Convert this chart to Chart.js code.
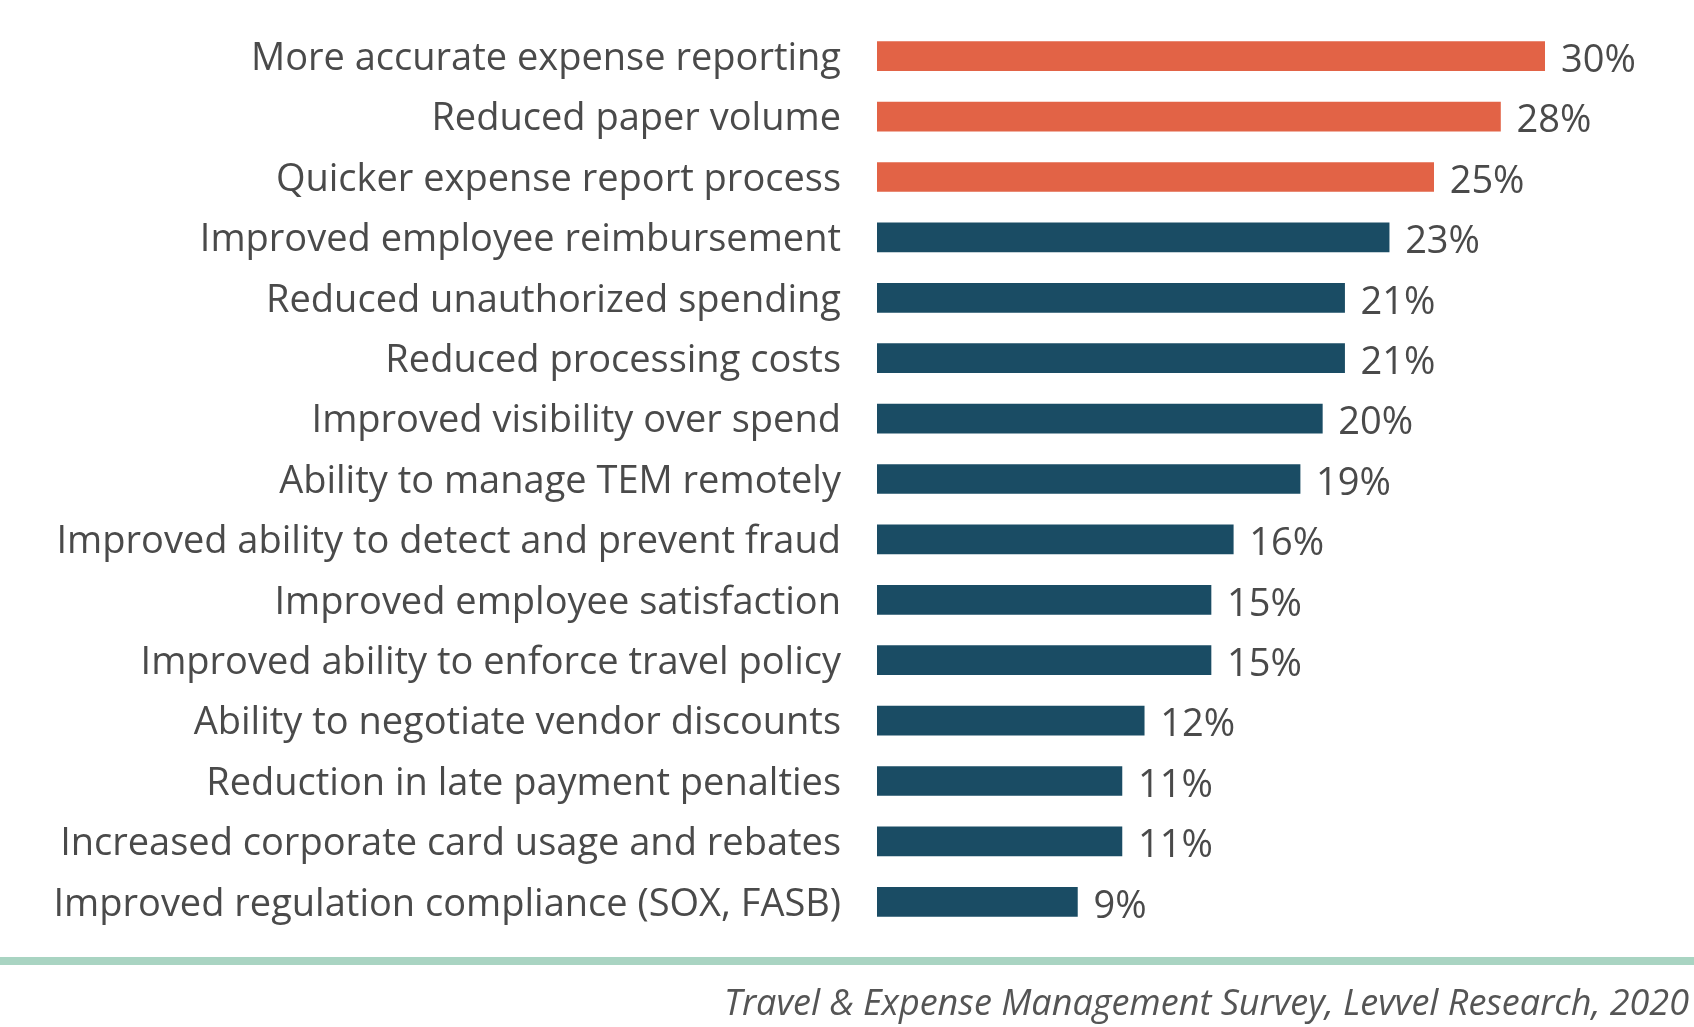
<!DOCTYPE html>
<html>
<head>
<meta charset="utf-8">
<script src="https://cdn.jsdelivr.net/npm/chart.js@4.4.0/dist/chart.umd.min.js"></script>
<style>
html,body{margin:0;padding:0;background:#fff;}
#wrap{position:relative;width:1694px;height:1027px;}
</style>
</head>
<body>
<div id="wrap"><canvas id="c" width="1694" height="1027"></canvas></div>
<script>
const categories = [
  "More accurate expense reporting",
  "Reduced paper volume",
  "Quicker expense report process",
  "Improved employee reimbursement",
  "Reduced unauthorized spending",
  "Reduced processing costs",
  "Improved visibility over spend",
  "Ability to manage TEM remotely",
  "Improved ability to detect and prevent fraud",
  "Improved employee satisfaction",
  "Improved ability to enforce travel policy",
  "Ability to negotiate vendor discounts",
  "Reduction in late payment penalties",
  "Increased corporate card usage and rebates",
  "Improved regulation compliance (SOX, FASB)"
];
const values = [30, 28, 25, 23, 21, 21, 20, 19, 16, 15, 15, 12, 11, 11, 9];
const highlighted = [true, true, true, false, false, false, false, false, false, false, false, false, false, false, false];
const sourceText = "Travel & Expense Management Survey, Levvel Research, 2020";

const ORANGE = "#E26346";
const NAVY = "#1A4C64";
const TEXT = "#4a4a4a";
const FONT = "'Open Sans', Lato, sans-serif";

const valueLabels = {
  id: 'valueLabels',
  afterDatasetsDraw(chart) {
    const ctx = chart.ctx;
    const meta = chart.getDatasetMeta(0);
    ctx.save();
    ctx.font = "38px " + FONT;
    ctx.fillStyle = TEXT;
    ctx.textAlign = 'left';
    ctx.textBaseline = 'middle';
    meta.data.forEach((bar, i) => {
      ctx.fillText(values[i] + '%', bar.x + 16, bar.y + 5);
    });
    ctx.restore();
  }
};

const footer = {
  id: 'footer',
  afterDraw(chart) {
    const ctx = chart.ctx;
    ctx.save();
    ctx.fillStyle = "#A9D4C2";
    ctx.fillRect(0, 957, 1694, 8);
    ctx.font = "italic 36px " + FONT;
    ctx.fillStyle = "#555555";
    ctx.textAlign = 'right';
    ctx.textBaseline = 'middle';
    ctx.fillText(sourceText, 1689, 1005);
    ctx.restore();
  }
};

new Chart(document.getElementById('c'), {
  type: 'bar',
  data: {
    labels: categories,
    datasets: [{
      data: values,
      backgroundColor: highlighted.map(h => h ? ORANGE : NAVY),
      barThickness: 29,
      borderWidth: 0
    }]
  },
  options: {
    indexAxis: 'y',
    responsive: false,
    animation: false,
    layout: { padding: { top: 26, bottom: 95, right: 149, left: 0 } },
    plugins: { legend: { display: false }, tooltip: { enabled: false } },
    scales: {
      x: {
        min: 0, max: 30,
        display: false,
        grid: { display: false }
      },
      y: {
        grid: { display: false, drawTicks: true, tickLength: 36 },
        border: { display: false },
        ticks: {
          padding: 0,
          labelOffset: 3,
          color: TEXT,
          font: { family: FONT, size: 38 }
        },
        afterFit(axis) { axis.width = 877; }
      }
    }
  },
  plugins: [valueLabels, footer]
});
</script>
</body>
</html>
